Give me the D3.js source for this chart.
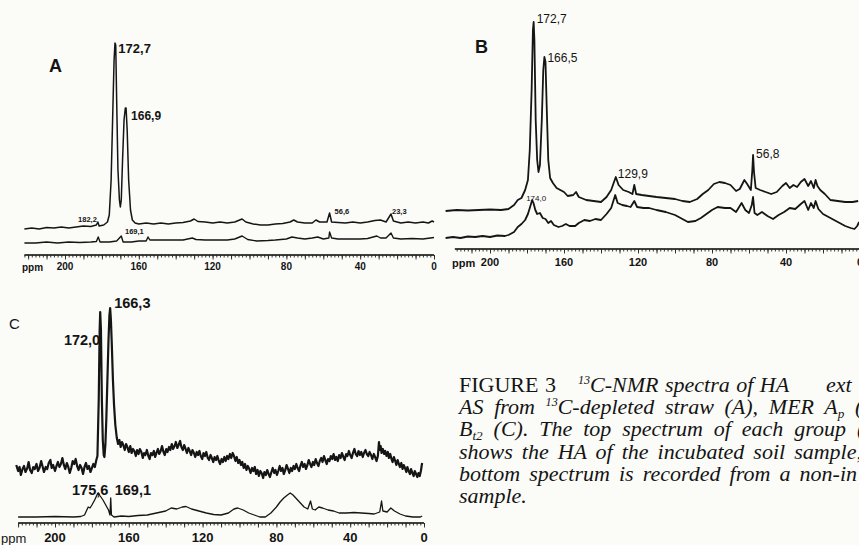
<!DOCTYPE html>
<html>
<head>
<meta charset="utf-8">
<script src="https://cdn.jsdelivr.net/npm/d3@7"></script>
<style>
body { margin: 0; background: #fbfbf8; }
svg { display: block; }
text { fill: #141414; }
</style>
</head>
<body>
<svg width="859" height="545"></svg>
<script>
const svg = d3.select("svg");

// ppm axis labels, shared by the three panels
const ppmTicks = [200, 160, 120, 80, 40, 0];

// spectra: [ppm, intensity above the trace's own baseline]
const aTop = [[222,1],[218,2],[214,1],[210,2.5],[206,2],[202,3],[198,2],[194,3],[190,4],[186,3.5],[183,5],[182.2,8],[181.5,4],[179,5],[177,8],[176,15],[175,50],[174.2,110],[173.4,170],[172.9,187],[172.5,185],[172,130],[171.3,60],[170.5,30],[170,23],[169.5,30],[168.8,70],[168,110],[167.3,122],[166.9,122],[166.3,100],[165.5,50],[164.5,20],[163.5,10],[162,7],[160,6],[156,7],[152,6],[148,7],[144,6],[140,7],[136,7.5],[132,9],[130,11],[128,8.5],[124,8],[120,7],[116,8],[112,7],[108,8],[104,11],[102,8],[98,6],[94,5],[90,5],[86,6],[82,6.5],[78,8],[76,10],[74,8],[70,7],[66,7],[64,10],[62,8],[58,8],[56.6,17],[55.5,8],[52,7.5],[48,7],[44,8],[40,7],[36,8],[32,9.5],[29,10],[26,8],[23.3,16],[22,9],[18,7],[14,8],[10,7],[6,8],[3,7],[1,9],[0,8]];
const aBottom = [[222,2],[216,2],[210,3],[204,2],[198,3],[192,2.5],[186,3],[183,3.5],[182,8],[181,3],[176,3],[172,4],[169.5,9],[168.5,3],[164,3],[160,4],[156,4],[155,8],[154,5],[148,5],[142,5],[136,5],[131,7],[129,5.5],[124,5],[118,5],[112,5],[108,6],[104,9],[101,5.5],[96,4],[90,4.5],[86,5],[80,6],[77,8],[74,7],[70,6],[66,7],[63,8],[60,6],[57,7],[56.6,13],[55.5,7],[52,6],[46,6],[40,6],[36,6.5],[31,9],[29,7],[26,7],[23.3,12],[22,7],[18,6],[12,6.5],[6,6],[2,7],[0,7.5]];

const bTop = [[224,1],[218,2],[212,1.5],[206,2],[200,2.5],[194,2],[190,3],[187,7],[185,12],[183,14],[181,22],[179.5,32],[178.5,62],[177.5,122],[176.8,182],[176.4,190],[176,172],[175.3,92],[174.5,52],[173.8,40],[173,47],[172,92],[171.2,142],[170.6,155],[170,150],[169.3,102],[168.5,52],[167.5,34],[166,29],[164,24],[162,22],[160,20],[158,16],[155,17],[153.5,20],[152,15],[148,12],[144,11],[140,10],[137,15],[134.5,22],[132,35],[130.5,27],[128,22],[125,20],[123,18],[122,27],[121,18],[118,17],[114,16],[110,15],[105,14],[100,13],[96,11],[92,10],[88,13],[85,18],[82,22],[79,28],[76,30],[73,29],[70,27],[67,21],[65,23],[62.5,32],[61,28],[59,22],[58.2,42],[57.8,57],[57.3,40],[56.4,24],[54,22],[51,20],[48,18],[45,20],[42,26],[40,29],[38,24],[36,27],[34,25],[32,30],[30,33],[28,26],[26.5,31],[25,24],[24,32],[23,26],[21.5,22],[19,18],[16,12],[12,11],[8,10],[4,10],[1,11]];
const bBottom = [[224,2],[220,3],[216,2],[212,3.5],[208,3],[204,4],[200,3],[196,4.5],[192,4],[190,5],[187,8],[185,13],[183,16],[181,20],[179.5,26],[178.5,32],[177.2,40],[176.5,37],[175.5,30],[174.5,26],[173,27],[171.5,22],[170,21],[168.5,17],[167,19],[165.5,15],[163,13],[161,14],[159,16],[157,14],[154,14],[152,17],[149,20],[146,19],[143,21],[140,20],[137,26],[134.5,32],[132.3,45],[131,37],[128.5,35],[126,34],[124,33],[122,39],[120.5,33],[117,32],[114,32],[110,30],[105,28],[100,25],[97,22],[93,18],[89,19],[86,22],[83,26],[80,30],[77,33],[73,32],[70,32],[67,28],[64,37],[62,30],[60,27],[58.5,35],[57.8,43],[57,27],[55.5,25],[53,28],[50,24],[47,21],[44,25],[41,28],[38,32],[35,31],[32,36],[30,39],[28,30],[26.5,37],[25,32],[24,39],[22.5,31],[20,26],[17,23],[14,20],[11,17],[8,14],[5,12],[3,11],[1.5,14],[0.5,18]];

const cTop = [[221,15],[220,9],[219.2,13],[218.5,5],[217.6,11],[216.8,14],[216,8],[215,12],[214.3,18],[213.5,10],[212.6,7],[211.8,13],[211,11],[210,16],[209.2,9],[208.4,12],[207.5,19],[206.8,14],[206,8],[205,13],[204.2,11],[203.4,17],[202.5,20],[201.8,12],[201,15],[200,9],[199.2,14],[198.4,18],[197.6,13],[196.8,16],[196,22],[195.2,15],[194.4,11],[193.6,17],[192.8,13],[192,7],[191.2,12],[190.4,19],[189.6,16],[188.8,21],[188,14],[187.2,10],[186.4,15],[185.6,12],[184.8,6],[184,13],[183.2,17],[182.4,11],[181.6,14],[180.8,8],[180,12],[179.2,16],[178.4,13],[177.6,20],[177,24],[176.3,80],[175.8,150],[175.5,168],[175.1,150],[174.6,80],[174.1,40],[173.6,25],[173.2,23],[172.7,35],[172.2,60],[171.6,100],[171,140],[170.5,165],[170.1,172],[169.7,160],[169.2,135],[168.6,100],[168,75],[167.3,55],[166.5,42],[165.8,36],[165.1,40],[164.4,33],[163.7,38],[163,35],[162.2,30],[161.5,36],[160.8,33],[160,28],[159.2,34],[158.5,27],[157.7,31],[157,29],[156.2,24],[155.5,30],[154.7,26],[154,31],[153.2,28],[152.4,22],[151.7,27],[151,25],[150.2,30],[149.4,24],[148.7,21],[148,27],[147.2,25],[146.4,29],[145.7,23],[145,27],[144.2,31],[143.5,26],[142.7,29],[142,34],[141.2,28],[140.5,25],[139.7,31],[139,28],[138.2,33],[137.5,30],[136.7,36],[136,31],[135.2,34],[134.5,38],[133.7,32],[133,35],[132.2,39],[131.5,33],[130.7,30],[130,35],[129.2,31],[128.5,27],[127.7,32],[127,29],[126.2,25],[125.5,30],[124.7,27],[124,23],[123.2,28],[122.5,25],[121.7,29],[121,24],[120.2,21],[119.5,27],[118.7,24],[118,28],[117.2,22],[116.5,20],[115.7,25],[115,22],[114.2,18],[113.5,23],[112.7,20],[112,24],[111.2,19],[110.5,16],[109.7,21],[109,18],[108.2,23],[107.5,19],[106.7,24],[106,21],[105.2,26],[104.5,22],[103.7,27],[103,24],[102.2,19],[101.5,23],[100.7,17],[100,20],[99.2,15],[98.5,18],[97.7,12],[97,16],[96.2,10],[95.5,14],[94.7,11],[94,7],[93.2,12],[92.5,9],[91.7,13],[91,6],[90.2,10],[89.5,4],[88.7,9],[88,7],[87.2,2],[86.5,8],[85.7,5],[85,10],[84.2,6],[83.5,3],[82.7,8],[82,12],[81.2,7],[80.5,10],[79.7,5],[79,9],[78.2,14],[77.5,9],[76.7,12],[76,6],[75.2,10],[74.5,15],[73.7,11],[73,7],[72.2,12],[71.5,9],[70.7,14],[70,11],[69.2,16],[68.5,12],[67.7,9],[67,14],[66.2,18],[65.5,13],[64.7,16],[64,11],[63.2,15],[62.5,20],[61.7,16],[61,13],[60.2,18],[59.5,15],[58.7,21],[58,17],[57.2,14],[56.5,19],[55.7,22],[55,18],[54.2,24],[53.5,20],[52.7,16],[52,21],[51.2,19],[50.5,24],[49.7,21],[49,26],[48.2,20],[47.5,23],[46.7,19],[46,25],[45.2,22],[44.5,27],[43.7,23],[43,20],[42.2,26],[41.5,24],[40.7,29],[40,25],[39.2,22],[38.5,27],[37.7,31],[37,26],[36.2,24],[35.5,29],[34.7,25],[34,28],[33.2,23],[32.5,27],[31.7,30],[31,26],[30.2,24],[29.5,28],[28.7,25],[28,21],[27.2,26],[26.5,23],[25.7,19],[25,24],[24.4,38],[24,30],[23.5,34],[23,27],[22.3,31],[21.6,26],[21,29],[20.3,24],[19.6,28],[19,22],[18.3,26],[17.6,21],[17,18],[16.3,23],[15.6,19],[15,15],[14.3,20],[13.6,16],[13,13],[12.3,17],[11.6,11],[11,15],[10.3,12],[9.6,8],[9,13],[8.3,9],[7.6,6],[7,11],[6.3,7],[5.6,4],[5,9],[4.3,6],[3.6,3],[3,7],[2.3,4],[1.7,9],[1.2,15],[1,17]];
const cBottom = [[220,3],[210,3],[200,3.5],[190,3],[186,3.5],[184,5],[183,9],[182,13],[181,12],[180,15],[178.5,20],[177,26],[176.5,27],[175.5,24],[174,20],[172.5,15],[171,10],[170.2,5],[169.8,22],[169.4,5],[168,3],[164,4],[160,3.5],[155,4.5],[150,5],[145,7],[140,9],[137,12],[134,11],[131,13],[129,13.5],[126,11],[122,9],[118,7],[114,5.5],[110,5],[106,7],[103,11],[101,12],[98,10],[95,7],[92,5],[89,3],[86,3],[83,7],[80,13],[78,18],[76,22],[74,25],[72.5,27],[71,25],[69,21],[67,17],[65,13],[63,11],[61.5,19],[60.5,11],[59,10],[57,13],[55,12],[52,10],[49,9],[46,7],[42,7],[38,7.5],[34,7],[30,6.5],[27,6],[24,8],[23,19],[22.3,9],[20,8],[18,12],[16,9],[13,6],[10,4],[6,3],[2,3],[1,4]];

// peak annotations: text, ppm, which trace, level (intensity units) of the text baseline
const aLabels = [
  { t: "172,7", ppm: 172.7, tr: 0, lv: 177, anchor: "start", dx: 3, size: 13 },
  { t: "166,9", ppm: 166.9, tr: 0, lv: 110, anchor: "start", dx: 5, size: 12 },
  { t: "182,2", ppm: 182.2, tr: 0, lv: 8, anchor: "end", dx: -1, size: 7.5 },
  { t: "169,1", ppm: 169.1, tr: 1, lv: 11, anchor: "start", dx: 3, size: 7.5 },
  { t: "56,6", ppm: 56.6, tr: 0, lv: 16, anchor: "start", dx: 5, size: 7.5 },
  { t: "23,3", ppm: 23.3, tr: 0, lv: 16, anchor: "start", dx: 1, size: 7.5 }
];
const bLabels = [
  { t: "172,7", ppm: 176.4, tr: 0, lv: 189, anchor: "start", dx: 3, size: 12 },
  { t: "166,5", ppm: 170.6, tr: 0, lv: 150, anchor: "start", dx: 3, size: 12 },
  { t: "129,9", ppm: 132, tr: 0, lv: 34, anchor: "start", dx: 2, size: 12 },
  { t: "56,8", ppm: 57.8, tr: 0, lv: 54, anchor: "start", dx: 3, size: 12 },
  { t: "174,0", ppm: 177.2, tr: 1, lv: 39, anchor: "middle", dx: 4, size: 8 }
];
const cLabels = [
  { t: "172,0", ppm: 175.5, tr: 0, lv: 135, anchor: "end", dx: 0, size: 14.5 },
  { t: "166,3", ppm: 170.1, tr: 0, lv: 172, anchor: "start", dx: 4, size: 14.5 },
  { t: "175,6", ppm: 176.5, tr: 1, lv: 25, anchor: "end", dx: 10, size: 14.5 },
  { t: "169,1", ppm: 169.8, tr: 1, lv: 25, anchor: "start", dx: 4, size: 14.5 }
];

const panels = [
  { name: "A", top: aTop, bottom: aBottom, labels: aLabels, x200: 65, x0: 434, from: 222,
    axisY: 255, bases: [230, 245], sw: [1.5, 1.4], labelWeight: "bold",
    tickSize: 10, tickY: 270, ppmX: 22, ppmWeight: "bold",
    letter: { x: 49, y: 72, size: 18, weight: "bold" } },
  { name: "B", top: bTop, bottom: bBottom, labels: bLabels, x200: 490, x0: 860, from: 219,
    axisY: 249, bases: [212, 240], sw: [1.8, 1.8], labelWeight: "normal",
    tickSize: 11, tickY: 266, ppmX: 452, ppmWeight: "bold",
    letter: { x: 475, y: 53, size: 18, weight: "bold" } },
  { name: "C", top: cTop, bottom: cBottom, labels: cLabels, x200: 55, x0: 424, from: 220,
    axisY: 523, bases: [480, 520], sw: [2.2, 1.3], labelWeight: "bold",
    tickSize: 13, tickY: 542, ppmX: 1, ppmWeight: "normal",
    letter: { x: 9, y: 329, size: 15, weight: "normal" } }
];

const sans = "'Liberation Sans', Arial, sans-serif";

function drawPanel(p) {
  const g = svg.append("g").attr("class", "panel-" + p.name);
  const x = d3.scaleLinear().domain([200, 0]).range([p.x200, p.x0]);
  const ys = p.bases.map(b => d3.scaleLinear().domain([0, 200]).range([b, b - 200]));

  [p.top, p.bottom].forEach((spec, i) => {
    const line = d3.line().x(d => x(d[0])).y(d => ys[i](d[1]));
    g.append("path")
      .datum(spec)
      .attr("d", line)
      .attr("fill", "none")
      .attr("stroke", "#151515")
      .attr("stroke-width", p.sw[i])
      .attr("stroke-linejoin", "round");
  });

  // ruler-like ppm axis: minor ticks every 2 ppm, longer every 10
  const minor = d3.range(0, p.from + 0.01, 2);
  const major = d3.range(0, p.from + 0.01, 10);
  const ax = g.append("g").attr("transform", `translate(0,${p.axisY})`);
  ax.call(d3.axisBottom(x).tickValues(minor).tickSize(2.5).tickFormat(""));
  ax.append("g").call(d3.axisBottom(x).tickValues(major).tickSize(4.5).tickFormat(""))
    .select(".domain").remove();
  ax.select(".domain").attr("d", `M${x(p.from)},0H${x(0)}`).attr("stroke-width", 1.6);
  ax.selectAll("line").attr("stroke", "#222").attr("stroke-width", 0.9);

  g.selectAll("text.tick-label")
    .data(ppmTicks)
    .join("text")
    .attr("class", "tick-label")
    .attr("x", d => x(d))
    .attr("y", p.tickY)
    .attr("text-anchor", "middle")
    .attr("font-family", sans)
    .attr("font-weight", "bold")
    .attr("font-size", p.tickSize)
    .text(d => d);

  g.append("text")
    .attr("x", p.ppmX)
    .attr("y", p.tickY + 1)
    .attr("font-family", sans)
    .attr("font-weight", p.ppmWeight)
    .attr("font-size", p.tickSize)
    .text("ppm");

  g.selectAll("text.peak")
    .data(p.labels)
    .join("text")
    .attr("class", "peak")
    .attr("x", d => x(d.ppm) + d.dx)
    .attr("y", d => ys[d.tr](d.lv))
    .attr("text-anchor", d => d.anchor)
    .attr("font-family", sans)
    .attr("font-weight", p.labelWeight)
    .attr("font-size", d => d.size)
    .text(d => d.t);

  g.append("text")
    .attr("x", p.letter.x)
    .attr("y", p.letter.y)
    .attr("font-family", sans)
    .attr("font-weight", p.letter.weight)
    .attr("font-size", p.letter.size)
    .text(p.name);
}

panels.forEach(drawPanel);

// caption, one array of segments per line (n = normal, i = italic, sup, sub);
// optional third value pins a segment to an x position, fourth adds a gap before it
const captionLines = [
  [["n", "FIGURE 3"], ["sup", "13", null, 22], ["i", "C-NMR spectra of HA"], ["i", "ext", 826]],
  [["i", "AS from "], ["sup", "13"], ["i", "C-depleted straw (A), MER A"], ["sub", "p"], ["i", " (B)"]],
  [["i", "B"], ["sub", "t2"], ["i", " (C). The top spectrum of each group (u"]],
  [["i", "shows the HA of the incubated soil sample, th"]],
  [["i", "bottom spectrum is recorded from a non-in"]],
  [["i", "sample."]]
];
const captionSpacing = [1, 5.2, 5.4, 3.5, 3.6, 0];
const captionX = 459, captionY = 392, captionStep = 22.2, captionSize = 22;

captionLines.forEach((segs, li) => {
  const t = svg.append("text")
    .attr("x", captionX)
    .attr("y", captionY + li * captionStep)
    .attr("font-family", "'Liberation Serif', 'Times New Roman', serif")
    .attr("font-size", captionSize)
    .attr("word-spacing", captionSpacing[li])
    .style("white-space", "pre");
  let shift = 0;
  segs.forEach(([kind, val, xPos, gap]) => {
    const ts = t.append("tspan").text(val);
    if (xPos) ts.attr("x", xPos);
    if (gap) ts.attr("dx", gap);
    if (kind === "i") ts.attr("font-style", "italic");
    if (kind === "sup") {
      ts.attr("font-style", "italic").attr("font-size", captionSize * 0.55).attr("dy", -8 - shift);
      shift = -8;
    } else if (kind === "sub") {
      ts.attr("font-style", "italic").attr("font-size", captionSize * 0.6).attr("dy", 4 - shift);
      shift = 4;
    } else if (shift !== 0) {
      ts.attr("dy", -shift);
      shift = 0;
    }
  });
});
</script>
</body>
</html>
